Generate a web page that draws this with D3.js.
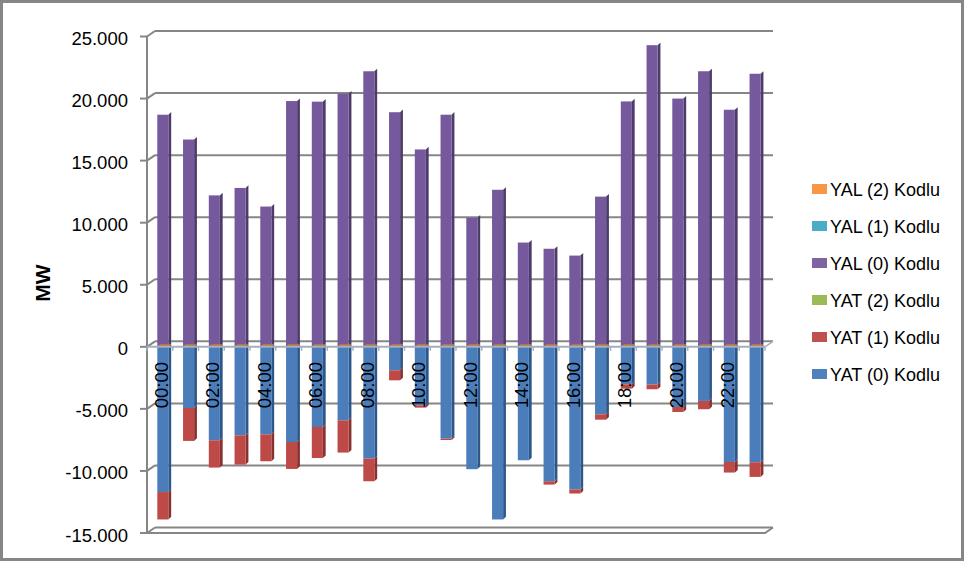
<!DOCTYPE html>
<html><head><meta charset="utf-8">
<script src="https://cdn.jsdelivr.net/npm/d3@7/dist/d3.min.js"></script>
<style>html,body{margin:0;padding:0;background:#fff}svg{display:block}</style>
</head><body>
<svg id="c" width="964" height="561"></svg>
<script>
const hours = ["00:00","01:00","02:00","03:00","04:00","05:00","06:00","07:00","08:00","09:00","10:00","11:00","12:00","13:00","14:00","15:00","16:00","17:00","18:00","19:00","20:00","21:00","22:00","23:00"];
const yal0 = [18700,16700,12200,12800,11300,19800,19750,20400,22200,18900,15900,18700,10400,12650,8400,7900,7350,12100,19770,24300,20000,22200,19100,22000];
const yal1 = [0,0,0,0,0,0,0,0,0,0,0,0,0,0,0,0,0,0,0,0,0,0,0,0];
const yal2 = [0,0,0,0,0,0,0,0,0,0,0,0,0,0,0,0,0,0,0,0,0,0,0,0];
const yat0 = [-11700,-4930,-7530,-7130,-7050,-7670,-6460,-5920,-9000,-1890,-4710,-7390,-9860,-13910,-9140,-10830,-11500,-5440,-3020,-3040,-4850,-4360,-9280,-9300];
const yat1 = [-2210,-2650,-2200,-2360,-2170,-2170,-2500,-2600,-1830,-810,-190,-120,0,0,0,-270,-320,-430,-350,-380,-400,-670,-850,-1180];
const yat2 = [0,0,0,0,0,0,0,0,0,0,0,0,0,0,0,0,0,0,0,0,0,0,0,0];
const yTicks = [-15000,-10000,-5000,0,5000,10000,15000,20000,25000];
const legendNames = ["YAL (2) Kodlu","YAL (1) Kodlu","YAL (0) Kodlu","YAT (2) Kodlu","YAT (1) Kodlu","YAT (0) Kodlu"];

const series = [
  {key:"YAT (0) Kodlu", values:yat0, front:"#4a7dba", side:"#2d5788", legend:"#4f81bd"},
  {key:"YAT (1) Kodlu", values:yat1, front:"#bd4a47", side:"#873230", legend:"#c0504d"},
  {key:"YAT (2) Kodlu", values:yat2, front:"#98b956", side:"#6b853a", legend:"#9bbb59"},
  {key:"YAL (0) Kodlu", values:yal0, front:"#75599c", side:"#4d3b69", legend:"#8064a2"},
  {key:"YAL (1) Kodlu", values:yal1, front:"#48a8c2", side:"#2f7a8e", legend:"#4bacc6"},
  {key:"YAL (2) Kodlu", values:yal2, front:"#e88a3e", side:"#b06428", top:"#c27c3e", legend:"#f79646"}
];

const table = hours.map((h,i)=>{const o={hour:h}; series.forEach(s=>o[s.key]=s.values[i]); return o;});
const stack = d3.stack().keys(series.map(s=>s.key)).offset(d3.stackOffsetDiverging)(table);

const svg = d3.select("#c");
svg.append("rect").attr("x",1.5).attr("y",1.5).attr("width",961).attr("height",558)
  .attr("fill","#fff").attr("stroke","#868686").attr("stroke-width",3);

const DX = 8, DY = -5.5;
const x = d3.scaleBand().domain(hours).range([147,765]);
const y = d3.scaleLinear().domain([-15000,25000]).range([533,36.5]);
const loc = d3.formatLocale({decimal:",", thousands:".", grouping:[3], currency:["",""], minus:"-"});
const fmt = loc.format(",");
const grid = "#868686";

const g = svg.append("g");
yTicks.forEach(t=>{
  const yy = y(t);
  g.append("line").attr("x1",147+DX).attr("x2",765+DX).attr("y1",yy+DY).attr("y2",yy+DY)
    .attr("stroke",grid).attr("stroke-width",2);
  g.append("line").attr("x1",140).attr("x2",147).attr("y1",yy).attr("y2",yy).attr("stroke",grid).attr("stroke-width",2);
  g.append("line").attr("x1",147).attr("x2",147+DX).attr("y1",yy).attr("y2",yy+DY).attr("stroke",grid).attr("stroke-width",2);
});
const yb = y(-15000);
g.append("path").attr("d",`M147,${yb}L${765},${yb}L${765+DX},${yb+DY}`).attr("fill","none").attr("stroke",grid).attr("stroke-width",2);
g.append("line").attr("x1",147).attr("x2",147).attr("y1",y(25000)).attr("y2",y(-15000)).attr("stroke",grid).attr("stroke-width",2);

svg.append("g").selectAll("text").data(yTicks).join("text")
  .attr("x",128).attr("y",d=>y(d)+2).attr("text-anchor","end").attr("dominant-baseline","central")
  .attr("font-family","Liberation Sans, Arial, sans-serif").attr("font-size",18.5).attr("fill","#000")
  .text(d=>fmt(d));

const bw = x.bandwidth();
const off = bw*0.4, w = bw*0.43, dx = 2.8, dy = -2.6;
const bars = svg.append("g");
hours.forEach((h,i)=>{
  const x0 = x(h)+off;
  stack.forEach((layer,si)=>{
    const s = series[si];
    const v0 = layer[i][0], v1 = layer[i][1];
    if (v0===v1) return;
    const yt = y(Math.max(v0,v1)), ybt = y(Math.min(v0,v1));
    bars.append("path").attr("fill",s.side)
      .attr("d",`M${x0+w},${yt}L${x0+w+dx},${yt+dy}L${x0+w+dx},${ybt+dy}L${x0+w},${ybt}Z`);
    bars.append("rect").attr("x",x0).attr("y",yt).attr("width",w).attr("height",ybt-yt).attr("fill",s.front);
  });
  const topVal = stack[stack.length-1][i][1];
  const yt = y(topVal);
  bars.append("path").attr("fill",series[series.length-1].top)
    .attr("d",`M${x0},${yt}L${x0+dx},${yt+dy}L${x0+w+dx},${yt+dy}L${x0+w},${yt}Z`);
});

const y0 = y(0);
const ax = svg.append("g");
ax.append("line").attr("x1",147).attr("x2",765).attr("y1",y0).attr("y2",y0).attr("stroke","#a3afbd").attr("stroke-width",2);
ax.append("line").attr("x1",765).attr("x2",765+DX).attr("y1",y0).attr("y2",y0+DY).attr("stroke","#a3afbd").attr("stroke-width",1.5);
d3.range(hours.length+1).forEach(k=>{
  const xx = 147+k*bw;
  ax.append("line").attr("x1",xx).attr("x2",xx).attr("y1",y0).attr("y2",y0+4).attr("stroke","#a3afbd").attr("stroke-width",1.5);
});
ax.selectAll("text.xl").data(hours.filter((h,i)=>i%2===0)).join("text")
  .attr("transform",d=>`translate(${x(d)+bw/2+1.5},362) rotate(-90)`)
  .attr("text-anchor","end").attr("dominant-baseline","central")
  .attr("font-family","Liberation Sans, Arial, sans-serif").attr("font-size",18.5).attr("fill","#000")
  .text(d=>d);

svg.append("text").attr("transform","translate(42,283) rotate(-90)")
  .attr("text-anchor","middle").attr("dominant-baseline","central")
  .attr("font-family","Liberation Sans, Arial, sans-serif").attr("font-weight","bold").attr("font-size",21)
  .text("MW");

const lg = svg.append("g");
legendNames.forEach((n,i)=>{
  const s = series.find(d=>d.key===n);
  const cy = 189 + i*37;
  lg.append("rect").attr("x",812).attr("y",cy-5).attr("width",15).attr("height",10).attr("fill",s.legend);
  lg.append("text").attr("x",830).attr("y",cy+1).attr("dominant-baseline","central")
    .attr("font-family","Liberation Sans, Arial, sans-serif").attr("font-size",18).attr("fill","#000").text(n);
});
</script>
</body></html>
